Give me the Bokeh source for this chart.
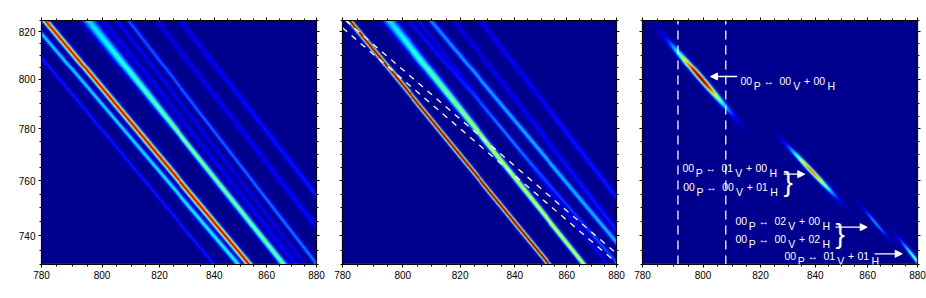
import numpy as np
from bokeh.embed import file_html
from bokeh.resources import INLINE
from bokeh.layouts import row
from bokeh.models import (Arrow, NormalHead, Label, LinearAxis, FixedTicker, CustomJSTickFormatter,
                          LinearColorMapper, Range1d)
from bokeh.plotting import figure

FONT = "Liberation Sans"

# ---------- axes (nm) ----------
X_LIMITS = [780, 880]
Y_LIMITS = [730, 825]
X_TICKS = [780, 800, 820, 840, 860, 880]
Y_TICKS = [740, 760, 780, 800, 820]
X_MINOR = [785, 790, 795, 805, 810, 815, 825, 830, 835, 845, 850, 855, 865, 870, 875]
Y_MINOR = [730, 735, 745, 750, 755, 765, 770, 775, 785, 790, 795, 805, 810, 815, 825]

# ---------- panel (a) ridges: lambda_H at the top and the bottom edge, amplitude and width at top/mid/bottom ----------
A_TOP = [770.0, 776.4, 781.2, 795.4, 800.5, 805.0, 809.0, 819.0, 827.5]
A_BOT = [839.8, 848.9, 853.1, 866.6, 871.5, 875.2, 880.0, 891.7, 902.3]
A_AMP = [[.14, .14, .14], [.33, .35, .38], [.90, .92, .92], [.33, .52, .48], [.10, .10, .12],
         [.12, .10, .10], [.20, .22, .24], [.09, .11, .13], [.10, .13, .15]]
A_SIG = [[9, 9, 9], [11, 11, 13], [13, 13, 13], [26, 13, 15], [13, 13, 13],
         [10, 10, 10], [11, 10, 11], [13, 13, 13], [13, 13, 13]]

# ---------- panel (b) ridges ----------
B_TOP = [782.3, 795.3, 802.0, 805.3, 809.6, 817.8, 827.4]
B_BOT = [852.9, 866.7, 880.5, 876.0, 887.5, 890.9, 901.4]
B_AMP = [[1.0, 1.0, 1.0], [.33, .60, .62], [.12, .15, .20], [.10, .10, .10], [.25, .30, .30],
         [.08, .12, .15], [.10, .13, .15]]
B_SIG = [[10, 10, 10], [26, 13, 11], [10, 10, 10], [10, 10, 10], [13, 13, 13], [13, 13, 13], [13, 13, 13]]

# ---------- panel (c) blobs ----------
C_XC = [799.0, 838.8, 863.2, 880.0]
C_YC = [800.5, 763.3, 744.3, 730.8]
C_AMP = [1.0, .78, .27, .50]
C_ACROSS = [14, 12, 8, 9]
C_ALONG = [88, 74, 45, 58]
C_SLOPE = [-1.41, -1.29, -1.45, -1.52]

# ---------- annotations ----------
B_DASH_X = [[781.0, 880.0], [780.0, 880.0]]
B_DASH_Y = [[825.0, 733.8], [821.8, 730.6]]
C_VLINES = [791.6, 807.8]
TERMS = [
    ["P", "00", "00", "00", "V", "H"],
    ["P", "00", "01", "00", "V", "H"],
    ["P", "00", "00", "01", "V", "H"],
    ["P", "00", "02", "00", "V", "H"],
    ["P", "00", "00", "02", "V", "H"],
    ["P", "00", "01", "01", "V", "H"],
]
TERM_X = [110, 52, 52.7, 105, 105, 154]      # px in panel (c) canvas
TERM_Y = [80, 167.7, 186, 220.7, 238.7, 255.7]
ARROW_X0 = [106.7, 153.3, 205, 244]
ARROW_X1 = [80, 174.3, 236.7, 271.7]
ARROW_Y = [76, 173.7, 226.7, 253.3]
BRACE_X = [153, 205]
BRACE_Y = [181, 233]

H = 298
FRAME_BOTTOM = 264


def c(lam):
    return -1e7 / np.asarray(lam, dtype=float)


jet_anchor = np.array([[0, 0, 143], [0, 0, 255], [0, 255, 255], [255, 255, 0], [255, 0, 0], [128, 0, 0]], float)
jet_pos = [0, .11, .36, .62, .87, 1]
JET = ["#%02x%02x%02x" % tuple(int(round(np.interp(i / 255, jet_pos, jet_anchor[:, k]))) for k in range(3))
       for i in range(256)]

NX, NY = 552, 488
GX = np.linspace(c(X_LIMITS[0]), c(X_LIMITS[1]), NX)
GY = np.linspace(c(Y_LIMITS[0]), c(Y_LIMITS[1]), NY)
XX, YY = np.meshgrid(GX, GY)


def ridge_image(tops, bots, amps, sigs):
    img = np.zeros_like(XX)
    yt = c(Y_LIMITS[1])
    yb = c(Y_LIMITS[0])
    f = (YY - yt) / (yb - yt)
    for t, b, a, s in zip(tops, bots, amps, sigs):
        xc = c(t) + (c(b) - c(t)) * f
        amp = np.interp(f, [0, .5, 1], a)
        sig = np.interp(f, [0, .5, 1], s)
        img += amp * np.exp(-.5 * ((XX - xc) / sig) ** 2)
    return img


def blob_image():
    img = np.zeros_like(XX)
    for xc, yc, a, sa, sl, m in zip(C_XC, C_YC, C_AMP, C_ACROSS, C_ALONG, C_SLOPE):
        dx_ = XX - c(xc)
        dy_ = YY - c(yc)
        u = dx_ - dy_ / m
        v = .5 * (dx_ + dy_ / m)
        img += a * np.exp(-.5 * (u / sa) ** 2) * np.exp(-.5 * (v / sl) ** 2)
    return img


def txt(p, x, y, s, col="white", size=10.5, angle=0, align="left"):
    # x, y: pixels from the canvas' top-left corner; Label screen units count from the frame's lower-left one
    p.add_layout(Label(x=x - p.min_border_left, y=FRAME_BOTTOM - y, x_units="screen", y_units="screen",
                       text=s, angle=angle, text_font=FONT, text_font_size=f"{size}px", text_color=col,
                       text_align=align, text_baseline="alphabetic"))


def panel(img, width, left, right, letter, letter_x, show_y):
    p = figure(width=width, height=H, output_backend="svg", toolbar_location=None,
               x_range=Range1d(c(X_LIMITS[0]), c(X_LIMITS[1])),
               y_range=Range1d(c(Y_LIMITS[0]), c(Y_LIMITS[1])),
               x_axis_type=None, y_axis_type=None,
               min_border_left=left, min_border_right=right, min_border_top=20, min_border_bottom=34,
               background_fill_color="#d8d8f0", outline_line_color=None, border_fill_color="white")
    mapper = LinearColorMapper(palette=JET, low=0, high=1)
    y0 = c(Y_LIMITS[0]) + 4
    p.image(image=[np.clip(img, 0, 1)], x=GX[0], y=y0, dw=GX[-1] - GX[0], dh=GY[-1] - y0,
            color_mapper=mapper)
    xt = FixedTicker(ticks=list(c(X_TICKS)), minor_ticks=list(c(X_MINOR)))
    yt = FixedTicker(ticks=list(c(Y_TICKS)), minor_ticks=list(c(Y_MINOR)))
    fmt = CustomJSTickFormatter(code="return (-1e7/tick).toFixed(0)")
    blank = CustomJSTickFormatter(code="return ''")
    for side, tk, f in (("below", xt, fmt), ("above", xt, blank),
                        ("left", yt, fmt if show_y else blank), ("right", yt, blank)):
        ax = LinearAxis(ticker=tk, formatter=f, major_tick_out=3, major_tick_in=0,
                        minor_tick_out=2, minor_tick_in=0, major_label_text_font=FONT,
                        major_label_text_font_size="10px", major_label_text_color="black",
                        major_label_standoff=3, axis_line_width=1.2, major_tick_line_width=1,
                        minor_tick_line_width=1)
        p.add_layout(ax, side)
    txt(p, letter_x, 13, letter, "#111111", 14)
    # x axis title
    cx = left + 119
    txt(p, cx, 288, "\u03bb", "black", 10)
    txt(p, cx + 5.5, 292, "H", "black", 9)
    txt(p, cx + 14, 288, "(nm)", "black", 10)
    return p


pa = panel(ridge_image(A_TOP, A_BOT, A_AMP, A_SIG), 329, 41, 13, "(a)", 35, True)
pb = panel(ridge_image(B_TOP, B_BOT, B_AMP, B_SIG), 301, 13, 14, "(b)", 7, False)
pc = panel(blob_image(), 296, 12, 9, "(c)", 9, False)

# rotated y title on panel (a)
txt(pa, 12, 160, "\u03bb", "black", 10, np.pi / 2)
txt(pa, 16, 154.5, "V", "black", 9, np.pi / 2)
txt(pa, 12, 146, "(nm)", "black", 10, np.pi / 2)

# dashed guide lines (b)
for xs, ys in zip(B_DASH_X, B_DASH_Y):
    pb.line(c(xs), c(ys), line_color="white", line_width=1.3, line_dash="6 6")
# dashed verticals (c)
for xv in C_VLINES:
    pc.line(c([xv, xv]), c(Y_LIMITS), line_color="white", line_width=1.3, line_dash="9 6")

# term annotations (c)
for term, x, y in zip(TERMS, TERM_X, TERM_Y):
    pmp, a, b, d, s1, s2 = term
    txt(pc, x, y, a)
    txt(pc, x + 13.3, y + 5, pmp)
    txt(pc, x + 23, y, "\u2194")
    txt(pc, x + 39, y, b)
    txt(pc, x + 52.7, y + 5, s1)
    txt(pc, x + 63.5, y, "+")
    txt(pc, x + 73, y, d)
    txt(pc, x + 87, y + 5, s2)

fx0, fx1 = c(X_LIMITS[0]), c(X_LIMITS[1])
fy0, fy1 = c(Y_LIMITS[1]), c(Y_LIMITS[0])


def dx(px):
    return fx0 + (px - 12) / 275 * (fx1 - fx0)


def dy(py):
    return fy0 + (py - 20) / 244 * (fy1 - fy0)


for x0, x1, y in zip(ARROW_X0, ARROW_X1, ARROW_Y):
    pc.add_layout(Arrow(x_start=dx(x0), y_start=dy(y), x_end=dx(x1), y_end=dy(y), line_color="white",
                        line_width=1.3,
                        end=NormalHead(size=7, fill_color="white", line_color="white", line_width=1)))
for x, y in zip(BRACE_X, BRACE_Y):
    txt(pc, x, y, "}", "white", 28)

page = row(pa, pb, pc, spacing=0)
open("out.html", "w").write(file_html(page, INLINE))
